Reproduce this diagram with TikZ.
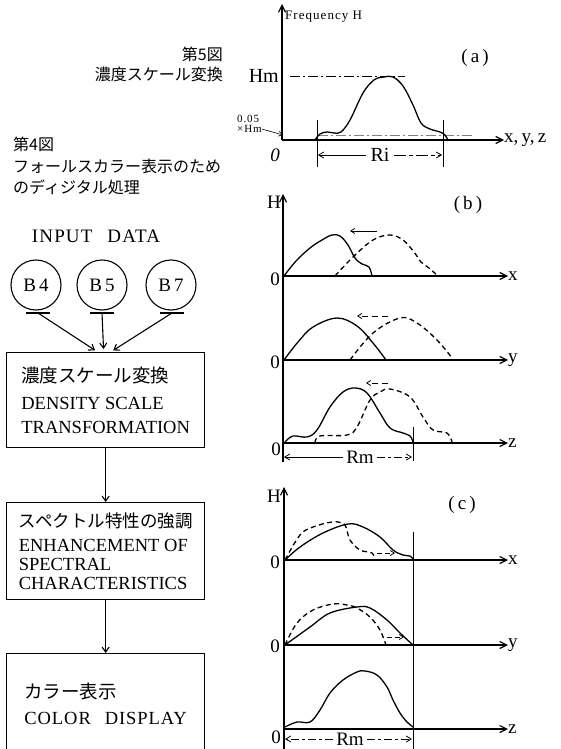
\documentclass[tikz,border=0pt]{standalone}
\usepackage{fontspec}
\setmainfont{Liberation Serif}
\newfontfamily\jp{Noto Sans CJK JP}
\usetikzlibrary{arrows.meta,positioning}
\tikzset{
  captxt/.style={inner sep=0pt,font=\jp\fontsize{16}{16}\selectfont},
  band/.style={circle,draw,line width=1.1pt,minimum size=50pt,inner sep=0pt,font=\fontsize{19}{19}\selectfont},
  stepbox/.style={draw,line width=1.3pt,minimum width=198pt,align=left,anchor=north west,inner sep=0pt},
  flow/.style={line width=1.1pt,-{Straight Barb[length=5pt,width=7pt]}},
  axis/.style={line width=1.2pt,-{Straight Barb[length=7pt,width=7pt]}},
  crv/.style={line width=1.3pt,line join=round,smooth,tension=0.6},
  dcrv/.style={crv,dash pattern=on 5pt off 3.5pt},
  shiftarr/.style={line width=0.8pt,-{Straight Barb[length=4pt,width=5pt]}},
  rng/.style={line width=0.8pt,-{Straight Barb[length=5pt,width=6pt]}},
  lbl/.style={inner sep=0pt,font=\fontsize{19}{19}\selectfont},
  smalltxt/.style={inner sep=0pt,anchor=west,font=\fontsize{11}{11}\selectfont\addfontfeatures{LetterSpace=8}},
  dashdot/.style={line width=0.7pt,dash pattern=on 10pt off 3pt on 2pt off 3pt}
}
\newcommand{\boxfont}{\fontsize{18.5}{19}\selectfont}

\begin{document}
\begin{tikzpicture}[x=1pt,y=-1pt]
\useasboundingbox (0,0) rectangle (560,749);
\clip (0,0) rectangle (560,749);

% captions
\node[captxt,anchor=east] (fig5) at (223,54) {第5図};
\node[captxt,anchor=east] (cap5) at (223,74) {濃度スケール変換};
\node[captxt,anchor=west] (fig4) at (13,144) {第4図};
\node[captxt,anchor=west] (cap4a) at (13,166) {フォールスカラー表示のため};
\node[captxt,anchor=west] (cap4b) at (13,187) {のディジタル処理};

% flow chart
\node[lbl,font=\fontsize{19}{19}\selectfont\addfontfeatures{LetterSpace=6}] (input) at (96,236) {INPUT\hspace{15pt}DATA};
\node[band] (b4) at (36,285) {B\,4};
\node[band] (b5) at (102,285) {B\,5};
\node[band] (b7) at (171,285) {B\,7};
\coordinate (u4) at (38,313);
\coordinate (u5) at (102,313);
\coordinate (u7) at (172,313);
\foreach \u in {u4,u5,u7}
  \draw[line width=1.1pt] ([xshift=-12pt]\u) -- ([xshift=12pt]\u);

\node[stepbox,minimum height=95pt,font=\fontsize{18.5}{24}\selectfont] (density) at (6,352)
  {{\jp 濃度スケール変換}\\[3pt]DENSITY SCALE\\TRANSFORMATION};
\node[stepbox,minimum height=97pt,font=\boxfont] (enhance) at (6,502)
  {{\jp\fontsize{17.5}{19}\selectfont スペクトル特性の強調}\\[5pt]ENHANCEMENT OF\\SPECTRAL\\CHARACTERISTICS};
\node[stepbox,minimum height=100pt,font=\fontsize{18.5}{26}\selectfont] (display) at (6,653)
  {{\jp カラー表示}\\{\addfontfeatures{LetterSpace=5}COLOR\hspace{14pt}DISPLAY}};

\draw[flow,shorten >=3pt] (u4) -- ([xshift=-8pt]density.north);
\draw[flow,shorten >=3pt] (u5) -- ([xshift=-2pt]density.north);
\draw[flow,shorten >=3pt] (u7) -- ([xshift=5pt]density.north);
\draw[flow] (density.south) -- (enhance.north);
\draw[flow] (enhance.south) -- (display.north);

% (a)
\coordinate (oa) at (282,140);
\coordinate (ta) at (282,4);
\node[lbl,anchor=west] (lxyz) at (504,140) {x,\,y,\,z};
\draw[axis] (oa) -- (ta);
\draw[axis] (oa) -- (lxyz.west);
\node[inner sep=0pt,anchor=west,font=\fontsize{13}{13}\selectfont\addfontfeatures{LetterSpace=8}] (freq) at (285,17) {Frequency H};
\node[lbl,font=\fontsize{19}{19}\selectfont] (capa) at (475,58) {(\,a\,)};
\node[lbl,font=\fontsize{20}{20}\selectfont,anchor=east] (hm) at (279,76) {Hm};
\node[lbl,font=\itshape\fontsize{19}{19}\selectfont] (za) at (275,155) {0};
\node[smalltxt] (pcta) at (237,119) {0.05};
\node[smalltxt] (pctb) at (237,129) {×Hm};
\draw[shiftarr,line width=0.6pt] (pctb.east) -- (283,135);
\draw[dashdot] (290,76) -- (405,76);
\draw[dashdot,gray] (318,135) -- (472,135);
\draw[crv] plot coordinates {(315,140) (320,134) (327,132) (334,133) (341,132) (350,120) (363,93) (374,80) (384,77) (393,77) (403,86) (413,105) (421,123) (430,129) (440,132) (445,135) (448,140)};
\draw[line width=1pt] (317,120) -- (317,167);
\draw[line width=1pt] (443,120) -- (443,167);
\node[lbl,font=\fontsize{20}{20}\selectfont] (ri) at (380,155) {Ri};
\draw[rng] (ri.west) ++(-4,0) -- (318,155);
\draw[rng,dash pattern=on 12pt off 3pt on 4pt off 3pt] (ri.east) ++(4,0) -- (442,155);

% (b)
\coordinate (tb) at (283,194);
\coordinate (bb) at (283,462);
\draw[axis] (bb) -- (tb);
\node[lbl,anchor=east] (hb) at (281,202) {H};
\node[lbl] (capb) at (468,205) {(\,b\,)};
\foreach \yy/\nm/\lab in {276/bx/x,360/by/y,443/bz/z}{
  \node[lbl,anchor=west] (l\nm) at (508,\yy) {\lab};
  \draw[axis] (283,\yy) -- (l\nm.west);
}
\node[lbl] (zbx) at (275,279) {0};
\node[lbl] (zby) at (275,362) {0};
\node[lbl] (zbz) at (276,449) {0};
% x
\draw[crv] plot coordinates {(284,276) (296,261) (310,248) (322,240) (332,235) (340,236) (348,245) (355,258) (362,264) (369,267) (372,276)};
\draw[dcrv] plot coordinates {(335,276) (353,257) (373,240) (390,235) (403,240) (414,252) (421,262) (429,268) (438,276)};
\draw[shiftarr] (377,231) -- (350,231);
% y
\draw[crv] plot coordinates {(284,360) (298,342) (313,327) (337,318) (357,326) (373,343) (386,360)};
\draw[dcrv] plot coordinates {(350,360) (373,333) (400,318) (417,323) (437,340) (452,358)};
\draw[shiftarr,dash pattern=on 6pt off 4pt] (388,316) -- (357,316);
% z
\draw[crv] plot coordinates {(285,442) (293,436) (307,437) (317,430) (330,407) (343,392) (355,388) (367,393) (380,413) (390,428) (403,433) (410,436) (413,442)};
\draw[dcrv] plot coordinates {(315,443) (320,436) (347,435) (357,427) (370,400) (380,392) (390,389) (410,397) (423,417) (433,430) (447,433) (452,442)};
\draw[shiftarr,dash pattern=on 6pt off 4pt] (388,383) -- (366,383);
\draw[line width=1pt] (413,427) -- (413,461);
\node[lbl] (rmb) at (360,457) {Rm};
\draw[rng] (rmb.west) ++(-3,0) -- (284,457);
\draw[rng,dash pattern=on 8pt off 3pt on 3pt off 3pt] (rmb.east) ++(3,0) -- (412,457);

% (c)
\coordinate (tc) at (284,487);
\coordinate (bc) at (284,749);
\draw[axis] (bc) -- (tc);
\node[lbl,anchor=east] (hc) at (281,496) {H};
\node[lbl] (capc) at (462,505) {(\,c\,)};
\foreach \yy/\nm/\lab in {560/cx/x,645/cy/y,729/cz/z}{
  \node[lbl,anchor=west] (l\nm) at (508,\yy) {\lab};
  \draw[axis] (284,\yy) -- (l\nm.west);
}
\node[lbl] (zcx) at (275,562) {0};
\node[lbl] (zcy) at (275,646) {0};
\node[lbl] (zcz) at (276,737) {0};
\draw[line width=1pt] (413,532) -- (413,749);
% x
\draw[crv] plot coordinates {(285,560) (300,547) (323,533) (348,524) (363,527) (380,537) (393,550) (403,555) (410,556) (413,559)};
\draw[dcrv] plot coordinates {(285,560) (300,535) (313,527) (332,522) (342,523) (346,527) (350,540) (360,550) (372,553) (375,560)};
\draw[shiftarr,dash pattern=on 5pt off 3pt] (377,553) -- (395,553);
% y
\draw[crv] plot coordinates {(285,645) (310,627) (330,613) (357,607) (370,608) (387,620) (400,633) (413,645)};
\draw[dcrv] plot coordinates {(285,645) (297,623) (313,610) (333,604) (347,605) (357,608) (370,617) (380,630) (386,645)};
\draw[shiftarr,dash pattern=on 5pt off 3pt] (387,637) -- (404,637);
% z
\draw[crv] plot coordinates {(285,727) (297,722) (310,722) (320,710) (330,693) (343,680) (357,672) (365,671) (377,675) (387,687) (393,700) (400,713) (407,722) (413,727)};
\node[lbl] (rmc) at (350,739) {Rm};
\draw[rng,dash pattern=on 8pt off 3pt on 3pt off 3pt] (rmc.west) ++(-3,0) -- (285,739);
\draw[rng,dash pattern=on 8pt off 3pt on 3pt off 3pt] (rmc.east) ++(3,0) -- (412,739);
\end{tikzpicture}
\end{document}
